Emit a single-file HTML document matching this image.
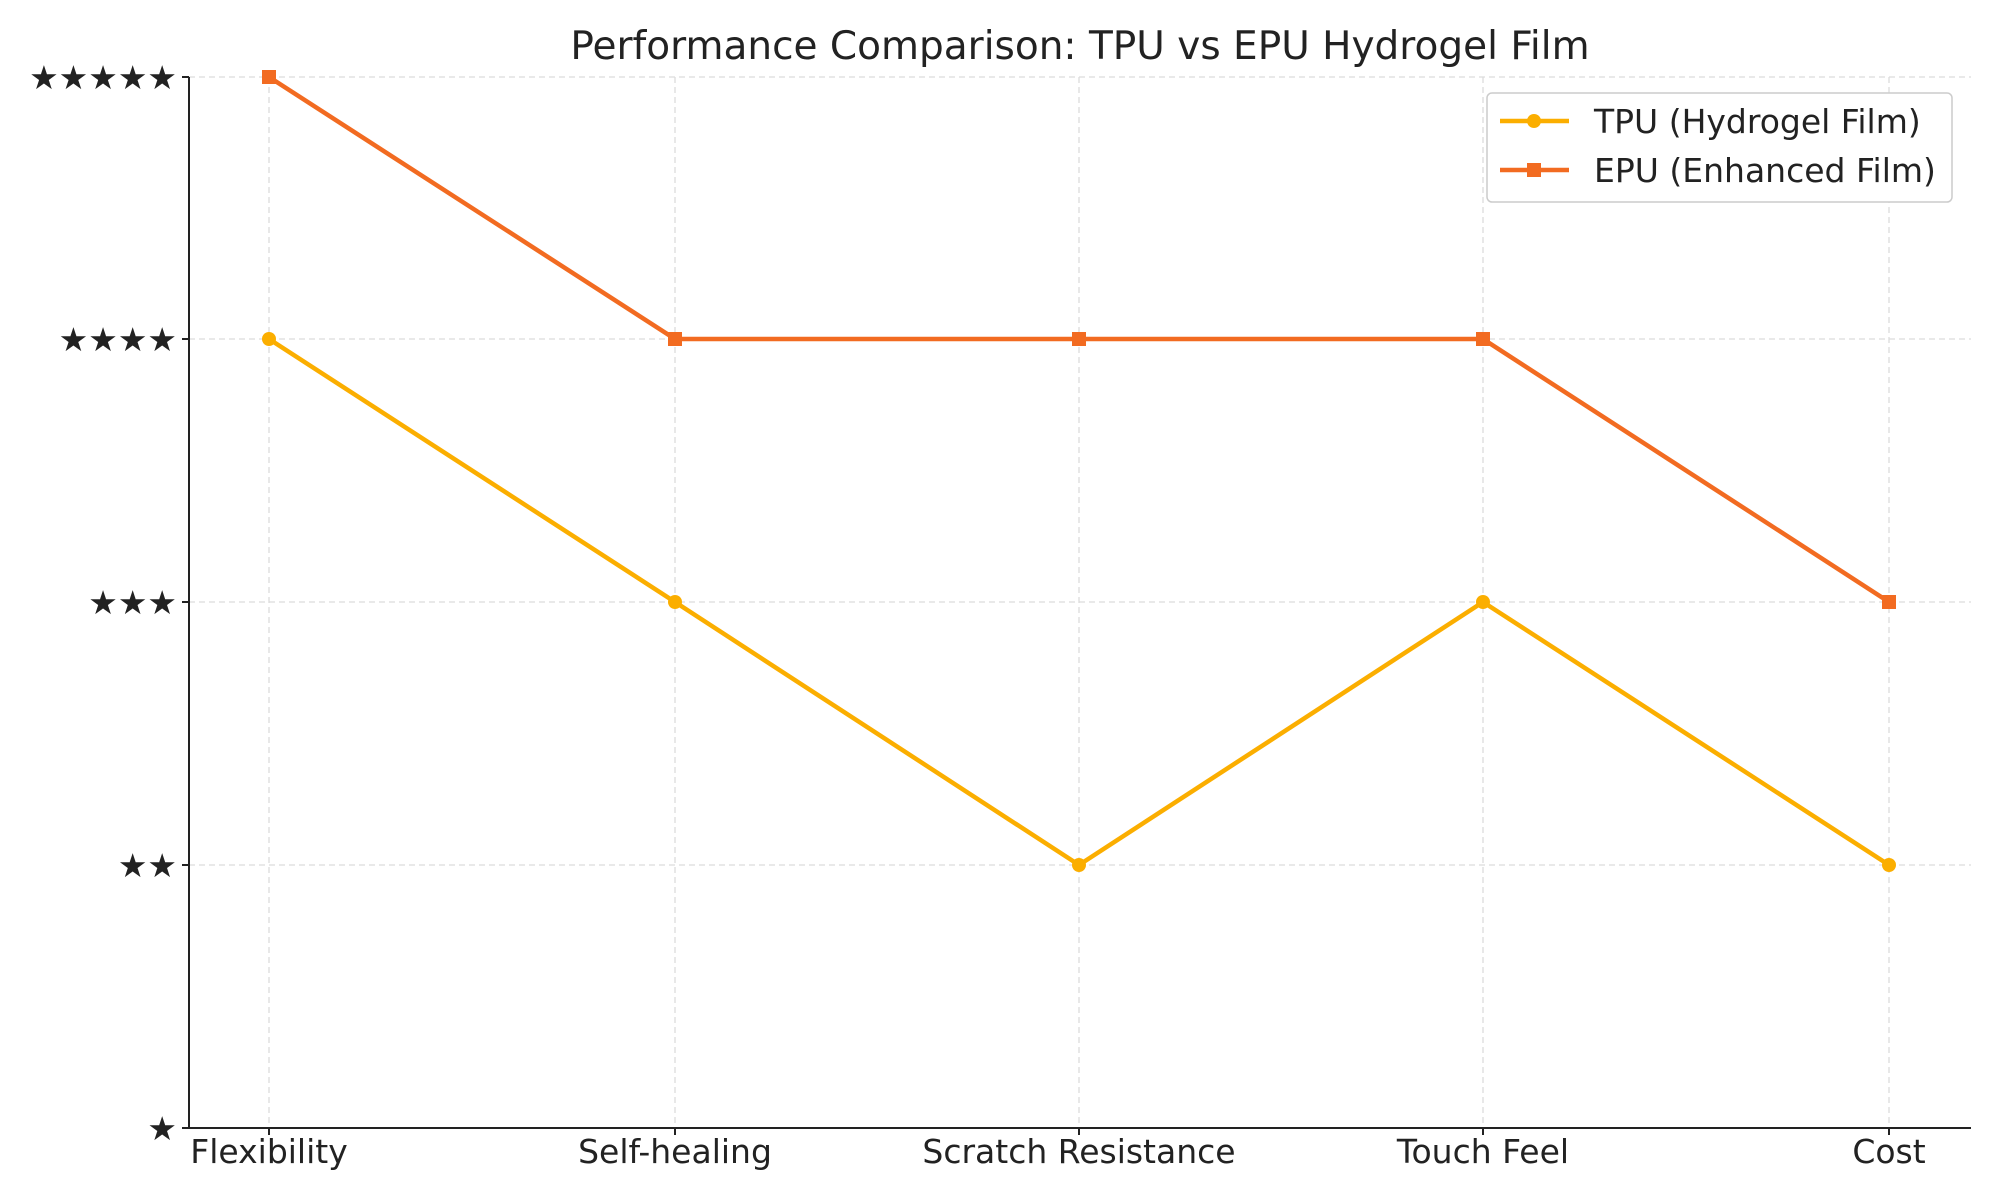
<!DOCTYPE html>
<html><head><meta charset="utf-8"><style>
html,body{margin:0;padding:0;background:#fff;}
svg{display:block;}
text{font-family:"DejaVu Sans","Liberation Sans",sans-serif;fill:#222;}
</style></head><body>
<svg width="2000" height="1200" viewBox="0 0 2000 1200" xmlns="http://www.w3.org/2000/svg">
<text x="1080" y="59" font-size="39" text-anchor="middle" fill="#333">Performance Comparison: TPU vs EPU Hydrogel Film</text>
<g stroke="#dcdcdc" stroke-width="1.3" stroke-dasharray="6,4">
<line x1="269" y1="77" x2="269" y2="1128"/><line x1="675" y1="77" x2="675" y2="1128"/>
<line x1="1079" y1="77" x2="1079" y2="1128"/><line x1="1483" y1="77" x2="1483" y2="1128"/>
<line x1="1889" y1="77" x2="1889" y2="1128"/>
<line x1="189" y1="77" x2="1971" y2="77"/><line x1="189" y1="339" x2="1971" y2="339"/>
<line x1="189" y1="602" x2="1971" y2="602"/><line x1="189" y1="865" x2="1971" y2="865"/>
</g>
<g stroke="#222" stroke-width="2">
<line x1="189" y1="77" x2="189" y2="1128"/><line x1="189" y1="1128" x2="1971" y2="1128"/>
<line x1="182" y1="77" x2="189" y2="77"/><line x1="182" y1="339" x2="189" y2="339"/>
<line x1="182" y1="602" x2="189" y2="602"/><line x1="182" y1="865" x2="189" y2="865"/>
<line x1="182" y1="1128" x2="189" y2="1128"/>
<line x1="269" y1="1128" x2="269" y2="1135"/><line x1="675" y1="1128" x2="675" y2="1135"/>
<line x1="1079" y1="1128" x2="1079" y2="1135"/><line x1="1483" y1="1128" x2="1483" y2="1135"/>
<line x1="1889" y1="1128" x2="1889" y2="1135"/>
</g>
<g font-size="33" text-anchor="end">
<text x="177" y="89">★★★★★</text><text x="177" y="351">★★★★</text>
<text x="177" y="614">★★★</text><text x="177" y="877">★★</text><text x="177" y="1140">★</text>
</g>
<g font-size="33" text-anchor="middle">
<text x="269" y="1163">Flexibility</text><text x="675" y="1163">Self-healing</text>
<text x="1079" y="1163">Scratch Resistance</text><text x="1483" y="1163">Touch Feel</text>
<text x="1889" y="1163">Cost</text>
</g>
<polyline points="269,339 675,602 1079,865 1483,602 1889,865" fill="none" stroke="#FBAE00" stroke-width="4.5"/>
<g fill="#FBAE00"><circle cx="269" cy="339" r="7"/><circle cx="675" cy="602" r="7"/><circle cx="1079" cy="865" r="7"/><circle cx="1483" cy="602" r="7"/><circle cx="1889" cy="865" r="7"/></g>
<polyline points="269,77 675,339 1079,339 1483,339 1889,602" fill="none" stroke="#F26B21" stroke-width="4.5"/>
<g fill="#F26B21"><rect x="262" y="70" width="14" height="14"/><rect x="668" y="332" width="14" height="14"/><rect x="1072" y="332" width="14" height="14"/><rect x="1476" y="332" width="14" height="14"/><rect x="1882" y="595" width="14" height="14"/></g>
<rect x="1487" y="93" width="465" height="109" rx="5" fill="#fff" stroke="#ccc" stroke-width="1.5"/>
<line x1="1500" y1="121" x2="1569" y2="121" stroke="#FBAE00" stroke-width="4.5"/><circle cx="1534" cy="121" r="7" fill="#FBAE00"/>
<line x1="1500" y1="170" x2="1569" y2="170" stroke="#F26B21" stroke-width="4.5"/><rect x="1527" y="163" width="14" height="14" fill="#F26B21"/>
<text x="1594" y="133" font-size="33" fill="#333">TPU (Hydrogel Film)</text>
<text x="1594" y="182" font-size="33" fill="#333">EPU (Enhanced Film)</text>
</svg>
</body></html>
